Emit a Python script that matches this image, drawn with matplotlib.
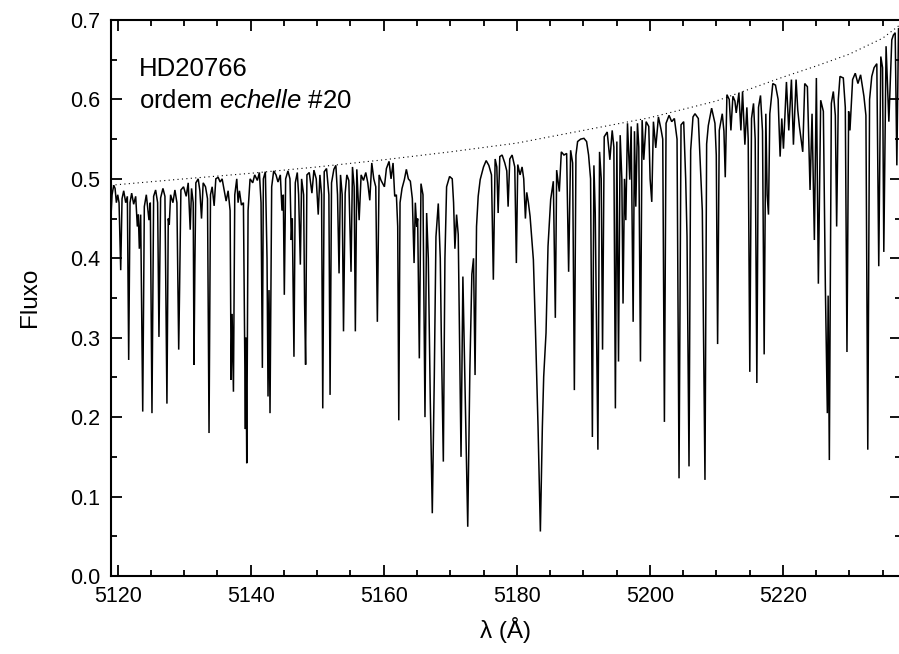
import numpy as np
import matplotlib
matplotlib.use("Agg")
import matplotlib.pyplot as plt

plt.rcParams['font.family'] = ['Liberation Sans', 'DejaVu Sans']
plt.rcParams['mathtext.fontset'] = 'custom'
plt.rcParams['mathtext.rm'] = 'Liberation Sans'
plt.rcParams['mathtext.it'] = 'Liberation Sans:italic'

# ---- spectrum vertices (wavelength in Angstrom, flux) ----
seg_a = [
    (5119.0, 0.455), (5119.15, 0.480), (5119.4, 0.492), (5119.6, 0.488), (5119.8, 0.470),
    (5120.0, 0.480), (5120.2, 0.470), (5120.45, 0.385), (5120.65, 0.475), (5120.9, 0.485),
    (5121.2, 0.470), (5121.45, 0.478), (5121.65, 0.272), (5121.85, 0.470), (5122.1, 0.482),
    (5122.4, 0.468), (5122.7, 0.478), (5122.95, 0.440), (5123.1, 0.455), (5123.25, 0.412),
    (5123.45, 0.455), (5123.76, 0.207), (5124.0, 0.465), (5124.3, 0.480), (5124.7, 0.448),
    (5124.9, 0.470), (5125.15, 0.205), (5125.4, 0.478), (5125.7, 0.486), (5126.0, 0.470),
    (5126.2, 0.301), (5126.45, 0.476), (5126.8, 0.488), (5127.1, 0.478), (5127.4, 0.217),
    (5127.6, 0.450), (5127.75, 0.442), (5127.95, 0.480), (5128.3, 0.470), (5128.6, 0.486),
    (5128.9, 0.470), (5129.1, 0.330), (5129.17, 0.285), (5129.3, 0.360), (5129.5, 0.486),
    (5129.9, 0.490), (5130.3, 0.478), (5130.6, 0.495), (5130.9, 0.436), (5131.1, 0.488),
    (5131.35, 0.470), (5131.47, 0.266), (5131.6, 0.390), (5131.75, 0.495), (5132.1, 0.500),
    (5132.35, 0.485), (5132.6, 0.450), (5132.85, 0.495), (5133.2, 0.490), (5133.5, 0.475),
    (5133.73, 0.180), (5133.95, 0.480), (5134.2, 0.490), (5134.5, 0.466), (5134.75, 0.500),
    (5135.1, 0.502), (5135.4, 0.496), (5135.7, 0.500), (5136.0, 0.486), (5136.3, 0.472),
    (5136.6, 0.485), (5136.9, 0.460), (5137.05, 0.247), (5137.2, 0.330), (5137.4, 0.232),
    (5137.6, 0.480), (5137.9, 0.500), (5138.1, 0.470), (5138.3, 0.485), (5138.6, 0.467),
    (5138.9, 0.470), (5139.2, 0.185), (5139.28, 0.300), (5139.4, 0.142), (5139.6, 0.460),
    (5139.9, 0.500), (5140.3, 0.495), (5140.6, 0.505), (5141.0, 0.498), (5141.3, 0.508),
    (5141.55, 0.470), (5141.75, 0.262), (5141.9, 0.500), (5142.2, 0.509), (5142.45, 0.400),
    (5142.6, 0.226), (5142.75, 0.360), (5142.9, 0.205), (5143.15, 0.490), (5143.45, 0.510),
    (5143.8, 0.505), (5144.1, 0.496), (5144.45, 0.505), (5144.7, 0.460), (5144.9, 0.480),
    (5145.05, 0.354), (5145.25, 0.500), (5145.6, 0.510), (5145.9, 0.500), (5146.1, 0.423),
    (5146.25, 0.450), (5146.5, 0.276), (5146.7, 0.495), (5147.0, 0.508), (5147.2, 0.480),
    (5147.46, 0.392), (5147.65, 0.500), (5147.95, 0.480), (5148.1, 0.343), (5148.25, 0.266),
    (5148.45, 0.505),
]

seg_b = [
    (5148.8, 0.508), (5149.2, 0.482), (5149.5, 0.511), (5149.85, 0.500), (5150.15, 0.455),
    (5150.4, 0.505), (5150.65, 0.480), (5150.83, 0.211), (5151.05, 0.509), (5151.4, 0.513),
    (5151.75, 0.480), (5151.93, 0.228), (5152.15, 0.495), (5152.5, 0.512), (5152.8, 0.517),
    (5153.05, 0.480), (5153.28, 0.381), (5153.5, 0.505), (5153.75, 0.480), (5153.95, 0.308),
    (5154.2, 0.482), (5154.45, 0.505), (5154.75, 0.498), (5155.08, 0.383), (5155.3, 0.515),
    (5155.55, 0.490), (5155.73, 0.308), (5155.95, 0.512), (5156.3, 0.448), (5156.6, 0.505),
    (5156.95, 0.498), (5157.3, 0.508), (5157.6, 0.495), (5157.9, 0.473), (5158.2, 0.520),
    (5158.5, 0.500), (5158.8, 0.490), (5159.04, 0.320), (5159.3, 0.505), (5159.6, 0.498),
    (5160.1, 0.490), (5160.4, 0.513), (5160.8, 0.522), (5161.1, 0.500), (5161.4, 0.520),
    (5161.65, 0.478), (5161.9, 0.480), (5162.1, 0.440), (5162.26, 0.196), (5162.45, 0.470),
    (5162.75, 0.488), (5163.1, 0.499), (5163.4, 0.512), (5163.7, 0.500), (5164.0, 0.497),
    (5164.3, 0.475), (5164.56, 0.394), (5164.75, 0.470), (5164.95, 0.440), (5165.1, 0.450),
    (5165.35, 0.274), (5165.6, 0.494), (5165.9, 0.480), (5166.2, 0.200), (5166.45, 0.457),
    (5166.7, 0.400), (5167.0, 0.220), (5167.3, 0.079), (5167.6, 0.250), (5167.85, 0.427),
    (5168.2, 0.469), (5168.5, 0.400), (5168.65, 0.305), (5168.96, 0.144), (5169.2, 0.400),
    (5169.45, 0.490), (5169.9, 0.503), (5170.3, 0.500), (5170.5, 0.470), (5170.7, 0.412),
    (5170.95, 0.455), (5171.2, 0.430), (5171.4, 0.300), (5171.62, 0.150), (5171.9, 0.377),
    (5172.2, 0.250), (5172.63, 0.062), (5172.95, 0.260), (5173.25, 0.380), (5173.5, 0.400),
    (5173.73, 0.253), (5173.95, 0.440), (5174.2, 0.478), (5174.5, 0.499), (5175.0, 0.515),
    (5175.4, 0.523), (5175.8, 0.517), (5176.2, 0.505), (5176.48, 0.373), (5176.75, 0.525),
    (5177.0, 0.515),
]

seg_c = [
    (5177.2, 0.457), (5177.45, 0.528), (5177.8, 0.530), (5178.2, 0.520), (5178.5, 0.510),
    (5178.7, 0.465), (5178.95, 0.525), (5179.3, 0.530), (5179.7, 0.515), (5179.94, 0.394),
    (5180.15, 0.518), (5180.5, 0.505), (5180.8, 0.515), (5181.05, 0.500), (5181.3, 0.450),
    (5181.5, 0.483), (5181.75, 0.470), (5182.0, 0.453), (5182.5, 0.398), (5182.8, 0.314),
    (5183.2, 0.188), (5183.55, 0.056), (5183.85, 0.188), (5184.05, 0.251), (5184.4, 0.306),
    (5184.7, 0.415), (5185.1, 0.474), (5185.5, 0.497), (5185.8, 0.325), (5186.0, 0.511),
    (5186.4, 0.484), (5186.7, 0.534), (5187.1, 0.530), (5187.5, 0.532), (5187.8, 0.383),
    (5188.1, 0.536), (5188.4, 0.520), (5188.66, 0.234), (5188.9, 0.530), (5189.15, 0.547),
    (5189.6, 0.550), (5190.1, 0.551), (5190.5, 0.547), (5190.8, 0.530), (5191.1, 0.500),
    (5191.37, 0.175), (5191.6, 0.517), (5191.8, 0.457), (5192.2, 0.159), (5192.45, 0.534),
    (5192.7, 0.500), (5192.9, 0.285), (5193.15, 0.553), (5193.6, 0.559), (5194.0, 0.524),
    (5194.35, 0.561), (5194.6, 0.540), (5194.83, 0.211), (5195.05, 0.547), (5195.3, 0.270),
    (5195.55, 0.555), (5195.8, 0.500), (5195.98, 0.343), (5196.2, 0.500), (5196.4, 0.448),
    (5196.65, 0.570), (5196.99, 0.499), (5197.2, 0.566), (5197.5, 0.320), (5197.7, 0.560),
    (5197.9, 0.465), (5198.15, 0.570), (5198.35, 0.540), (5198.6, 0.270), (5198.85, 0.574),
    (5199.1, 0.524), (5199.45, 0.572), (5199.85, 0.566), (5200.05, 0.500), (5200.3, 0.471),
    (5200.55, 0.572), (5200.9, 0.539), (5201.3, 0.578), (5201.7, 0.562), (5201.95, 0.550),
    (5202.2, 0.194), (5202.45, 0.570), (5202.9, 0.580), (5203.3, 0.572), (5203.7, 0.576),
    (5204.1, 0.550), (5204.4, 0.123), (5204.7, 0.568), (5205.1, 0.572), (5205.4, 0.500),
    (5205.6, 0.428), (5205.9, 0.138), (5206.15, 0.536), (5206.5, 0.578),
]

seg_d = [
    (5206.8, 0.582), (5207.3, 0.576), (5207.7, 0.500), (5207.9, 0.460), (5208.3, 0.121),
    (5208.55, 0.544), (5208.8, 0.567), (5209.3, 0.589), (5209.8, 0.570), (5210.0, 0.530),
    (5210.2, 0.292), (5210.45, 0.561), (5210.9, 0.582), (5211.15, 0.560), (5211.35, 0.502),
    (5211.6, 0.606), (5211.95, 0.600), (5212.2, 0.561), (5212.5, 0.604), (5212.8, 0.598),
    (5213.0, 0.583), (5213.4, 0.608), (5213.7, 0.561), (5213.95, 0.610), (5214.3, 0.543),
    (5214.6, 0.590), (5214.8, 0.550), (5215.04, 0.257), (5215.3, 0.576), (5215.6, 0.595),
    (5215.85, 0.550), (5216.1, 0.243), (5216.35, 0.590), (5216.65, 0.605), (5216.95, 0.560),
    (5217.2, 0.279), (5217.45, 0.582), (5217.65, 0.480), (5217.85, 0.455), (5218.05, 0.582),
    (5218.5, 0.620), (5218.9, 0.618), (5219.3, 0.600), (5219.6, 0.528), (5219.85, 0.576),
    (5220.1, 0.538), (5220.55, 0.622), (5220.9, 0.561), (5221.3, 0.625), (5221.6, 0.543),
    (5222.0, 0.625), (5222.25, 0.587), (5222.5, 0.566), (5223.0, 0.534), (5223.3, 0.620),
    (5223.7, 0.616), (5224.1, 0.486), (5224.4, 0.582), (5224.75, 0.423), (5225.05, 0.627),
    (5225.35, 0.368), (5225.7, 0.599), (5226.1, 0.585), (5226.4, 0.365), (5226.7, 0.205),
    (5226.82, 0.353), (5227.0, 0.146), (5227.3, 0.595), (5227.6, 0.610), (5227.9, 0.580),
    (5228.1, 0.440), (5228.35, 0.600), (5228.6, 0.629), (5229.1, 0.627), (5229.4, 0.590),
    (5229.65, 0.282), (5229.9, 0.585), (5230.1, 0.561), (5230.5, 0.625), (5230.9, 0.633),
    (5231.3, 0.620), (5231.7, 0.631), (5232.2, 0.604), (5232.5, 0.580), (5232.78, 0.159),
    (5233.05, 0.600), (5233.38, 0.629), (5233.73, 0.640), (5234.14, 0.645), (5234.43, 0.390),
    (5234.74, 0.654), (5235.0, 0.640), (5235.19, 0.408), (5235.53, 0.667), (5235.95, 0.572),
    (5236.39, 0.675), (5236.63, 0.681), (5236.9, 0.684), (5237.15, 0.517), (5237.4, 0.689),
    (5237.8, 0.690),
]

# ---- continuum (dotted) ----
cont_wave = [5119.0, 5130.0, 5140.0, 5150.0, 5160.0, 5170.0, 5180.0, 5190.0,
             5200.0, 5210.0, 5220.0, 5225.0, 5230.0, 5235.0, 5237.8]
cont_flux = [0.492, 0.500, 0.507, 0.515, 0.524, 0.534, 0.545, 0.561,
             0.577, 0.598, 0.628, 0.642, 0.657, 0.677, 0.695]

x_major = [5120, 5140, 5160, 5180, 5200, 5220]
y_major = [0.0, 0.1, 0.2, 0.3, 0.4, 0.5, 0.6, 0.7]

pts = np.array(seg_a + seg_b + seg_c + seg_d)
order = np.argsort(pts[:, 0], kind="stable")
wave = pts[order, 0]
flux = pts[order, 1]

fig = plt.figure(figsize=(8.99, 6.54), dpi=100)
ax = fig.add_axes([111 / 899, 1 - 576 / 654, (900.5 - 111) / 899, (576 - 20) / 654])

ax.plot(wave, flux, color='black', lw=1.1, solid_joinstyle='miter')
ax.plot(cont_wave, cont_flux, color='black', lw=0.8, linestyle=(0, (1, 3)))

ax.set_xlim(5118.99, 5237.7)
ax.set_ylim(0.0, 0.7)
ax.set_xticks(x_major)
ax.set_xticklabels([str(v) for v in x_major])
ax.set_xticks(np.arange(5120, 5240, 5), minor=True)
ax.set_yticks(y_major)
ax.set_yticklabels([f"{v:.1f}" for v in y_major])
ax.set_yticks(np.arange(0.05, 0.7, 0.1), minor=True)

for s in ax.spines.values():
    s.set_linewidth(1.5)

ax.tick_params(which='both', direction='in', top=True, right=True, width=1.3,
               labelsize=15.5)
ax.tick_params(which='major', length=8)
ax.tick_params(which='minor', length=4.5)
ax.tick_params(axis='x', pad=7)
ax.tick_params(axis='y', pad=8)

ax.text(5123.2, 0.63, "HD20766", fontsize=18.5, ha='left', va='baseline')
ax.text(5123.2, 0.589, r"ordem $\mathit{echelle}$ #20", fontsize=18.5, ha='left', va='baseline')

fig.text(30 / 899, 1 - 297 / 654, "Fluxo", rotation=90, ha='center', va='center', fontsize=17.5)
fig.text(505 / 899, 1 - 630 / 654, "λ (Å)", ha='center', va='center', fontsize=17.5)

fig.savefig("out.png", dpi=100)
